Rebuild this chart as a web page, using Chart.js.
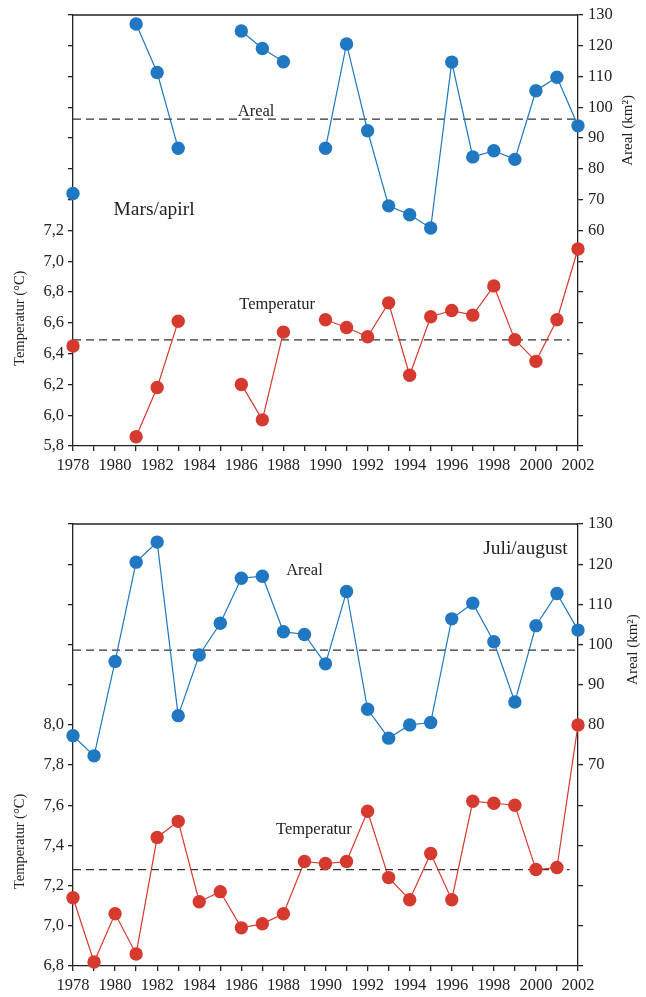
<!DOCTYPE html>
<html>
<head>
<meta charset="utf-8">
<script src="https://cdn.jsdelivr.net/npm/chart.js@4.4.1/dist/chart.umd.min.js"></script>
<style>
  html, body { margin: 0; padding: 0; background: #fff; }
  #wrap { position: relative; width: 646px; height: 997px; }
  .panel { position: absolute; left: 0; width: 646px; }
  #c1 { top: 0; height: 490px; }
  #c2 { top: 497px; height: 500px; }
</style>
</head>
<body>
<div id="wrap">
  <div class="panel" id="c1"><canvas id="chartSpring"></canvas></div>
  <div class="panel" id="c2"><canvas id="chartSummer"></canvas></div>
</div>
<script>
// Years 1978–2002
const years = [1978,1979,1980,1981,1982,1983,1984,1985,1986,1987,1988,1989,1990,
               1991,1992,1993,1994,1995,1996,1997,1998,1999,2000,2001,2002];

// March/April: ice-free area (km²) and temperature (°C); null = no observation
const springArea = [72.0,null,null,127.1,111.3,86.7,null,null,124.8,119.1,114.8,null,86.7,
                    120.6,92.4,68.0,65.1,60.8,114.7,83.9,85.9,83.1,105.4,109.8,94.0];
const springTemp = [6.45,null,null,5.86,6.18,6.61,null,null,6.20,5.97,6.54,null,6.62,
                    6.57,6.51,6.73,6.26,6.64,6.68,6.65,6.84,6.49,6.35,6.62,7.08];
const springAreaMean = 96.2;
const springTempMean = 6.49;

// July/August
const summerArea = [77.3,72.3,95.8,120.5,125.5,82.3,97.4,105.3,116.5,117.0,103.2,102.5,95.2,
                    113.2,83.9,76.7,80.0,80.6,106.4,110.3,100.7,85.7,104.7,112.7,103.6];
const summerTemp = [7.14,6.82,7.06,6.86,7.44,7.52,7.12,7.17,6.99,7.01,7.06,7.32,7.31,
                    7.32,7.57,7.24,7.13,7.36,7.13,7.62,7.61,7.60,7.28,7.29,8.00];
const summerAreaMean = 98.6;
const summerTempMean = 7.28;

// Axis tick settings
const yearTickLabels = years.filter(y => y % 2 === 0);
const springTempAxis = { min: 5.8, max: 8.6, step: 0.2, lastLabel: 7.2 };
const springAreaAxis = { min: -10, max: 130, step: 10, firstLabel: 60 };
const summerTempAxis = { min: 6.8, max: 9.0, step: 0.2, lastLabel: 8.0 };
const summerAreaAxis = { min: 20, max: 130, step: 10, firstLabel: 70 };

const BLUE = '#1f78c1';
const RED = '#d63a2e';
const INK = '#222';
const SERIF = '"Liberation Serif", "Times New Roman", serif';

function pts(values) {
  return years.map((yr, i) => ({ x: yr, y: values[i] }));
}

// Draws the frame's top edge and free-standing text labels
const decorations = {
  id: 'decorations',
  afterDraw(chart, args, opts) {
    const { ctx, chartArea } = chart;
    ctx.save();
    ctx.strokeStyle = INK;
    ctx.lineWidth = 1.3;
    ctx.beginPath();
    ctx.moveTo(chartArea.left, chartArea.top);
    ctx.lineTo(chartArea.right, chartArea.top);
    ctx.stroke();
    ctx.fillStyle = INK;
    ctx.textAlign = 'center';
    ctx.textBaseline = 'middle';
    (opts.labels || []).forEach(l => {
      const x = l.px !== undefined ? l.px : chart.scales.x.getPixelForValue(l.x);
      const y = chart.scales[l.axis].getPixelForValue(l.y);
      ctx.save();
      ctx.translate(x, y);
      if (l.rotate) ctx.rotate(l.rotate);
      ctx.font = `${l.size}px ${SERIF}`;
      ctx.fillText(l.text, 0, 0);
      ctx.restore();
    });
    ctx.restore();
  }
};

function makeChart(canvasId, cfg) {
  const tickFont = { family: SERIF, size: 16.5 };
  return new Chart(document.getElementById(canvasId), {
    type: 'line',
    data: {
      datasets: [
        {
          label: 'Areal', data: pts(cfg.area), yAxisID: 'yR',
          borderColor: BLUE, backgroundColor: BLUE, borderWidth: 1.2,
          pointRadius: 6.7, pointBorderWidth: 0, pointBackgroundColor: BLUE,
          spanGaps: false, clip: false
        },
        {
          label: 'Temperatur', data: pts(cfg.temp), yAxisID: 'yL',
          borderColor: RED, backgroundColor: RED, borderWidth: 1.2,
          pointRadius: 6.7, pointBorderWidth: 0, pointBackgroundColor: RED,
          spanGaps: false, clip: false
        },
        {
          label: 'Areal mean', yAxisID: 'yR',
          data: [{ x: years[0], y: cfg.areaMean }, { x: years[years.length - 1], y: cfg.areaMean }],
          borderColor: '#333', borderWidth: 1.2, borderDash: [8, 5], pointRadius: 0
        },
        {
          label: 'Temperatur mean', yAxisID: 'yL',
          data: [{ x: years[0], y: cfg.tempMean }, { x: 2001.6, y: cfg.tempMean }],
          borderColor: '#333', borderWidth: 1.2, borderDash: [8, 5], pointRadius: 0
        }
      ]
    },
    options: {
      responsive: true,
      maintainAspectRatio: false,
      animation: false,
      events: [],
      layout: { padding: { top: cfg.padTop, left: 0, right: 0, bottom: 0 } },
      plugins: {
        legend: { display: false },
        tooltip: { enabled: false },
        decorations: { labels: cfg.labels }
      },
      scales: {
        x: {
          type: 'linear', min: years[0], max: years[years.length - 1],
          border: { display: true, color: INK, width: 1.3 },
          grid: { drawOnChartArea: false, drawTicks: true, tickLength: 5, color: INK, lineWidth: 1.3 },
          ticks: {
            stepSize: 1, autoSkip: false, maxRotation: 0, padding: 5,
            color: INK, font: tickFont,
            callback: v => yearTickLabels.includes(v) ? String(v) : ''
          },
          afterFit: s => { s.height = cfg.xHeight; }
        },
        yL: {
          type: 'linear', position: 'left',
          min: cfg.tAxis.min, max: cfg.tAxis.max,
          border: { display: true, color: INK, width: 1.3 },
          grid: { drawOnChartArea: false, drawTicks: true, tickLength: 5, color: INK, lineWidth: 1.3 },
          ticks: {
            stepSize: cfg.tAxis.step, autoSkip: false, padding: 4, color: INK, font: tickFont,
            callback: v => v <= cfg.tAxis.lastLabel + 1e-6 ? v.toFixed(1).replace('.', ',') : ''
          },
          afterFit: s => { s.width = 73; }
        },
        yR: {
          type: 'linear', position: 'right',
          min: cfg.aAxis.min, max: cfg.aAxis.max,
          border: { display: true, color: INK, width: 1.3 },
          grid: { drawOnChartArea: false, drawTicks: true, tickLength: 5, color: INK, lineWidth: 1.3 },
          ticks: {
            stepSize: cfg.aAxis.step, autoSkip: false, padding: 5, color: INK, font: tickFont,
            callback: v => v >= cfg.aAxis.firstLabel ? String(v) : ''
          },
          afterFit: s => { s.width = 68; }
        }
      }
    },
    plugins: [decorations]
  });
}

makeChart('chartSpring', {
  area: springArea, temp: springTemp,
  areaMean: springAreaMean, tempMean: springTempMean,
  tAxis: springTempAxis, aAxis: springAreaAxis,
  padTop: 15, xHeight: 44,
  labels: [
    { text: 'Areal', x: 1986.7, y: 98.7, axis: 'yR', size: 16.5 },
    { text: 'Temperatur', x: 1987.7, y: 6.72, axis: 'yL', size: 16.5 },
    { text: 'Mars/apirl', x: 1981.85, y: 66.8, axis: 'yR', size: 19.5 },
    { text: 'Temperatur (°C)', px: 20, y: 6.63, axis: 'yL', size: 14.5, rotate: -Math.PI / 2 },
    { text: 'Areal (km²)', px: 628, y: 92.5, axis: 'yR', size: 15, rotate: -Math.PI / 2 }
  ]
});

makeChart('chartSummer', {
  area: summerArea, temp: summerTemp,
  areaMean: summerAreaMean, tempMean: summerTempMean,
  tAxis: summerTempAxis, aAxis: summerAreaAxis,
  padTop: 27, xHeight: 31,
  labels: [
    { text: 'Areal', x: 1989.0, y: 118.5, axis: 'yR', size: 16.5 },
    { text: 'Temperatur', x: 1989.45, y: 7.478, axis: 'yL', size: 16.5 },
    { text: 'Juli/august', x: 1999.5, y: 123.75, axis: 'yR', size: 19.5 },
    { text: 'Temperatur (°C)', px: 20, y: 7.42, axis: 'yL', size: 14.5, rotate: -Math.PI / 2 },
    { text: 'Areal (km²)', px: 633, y: 98.75, axis: 'yR', size: 15, rotate: -Math.PI / 2 }
  ]
});
</script>
</body>
</html>
